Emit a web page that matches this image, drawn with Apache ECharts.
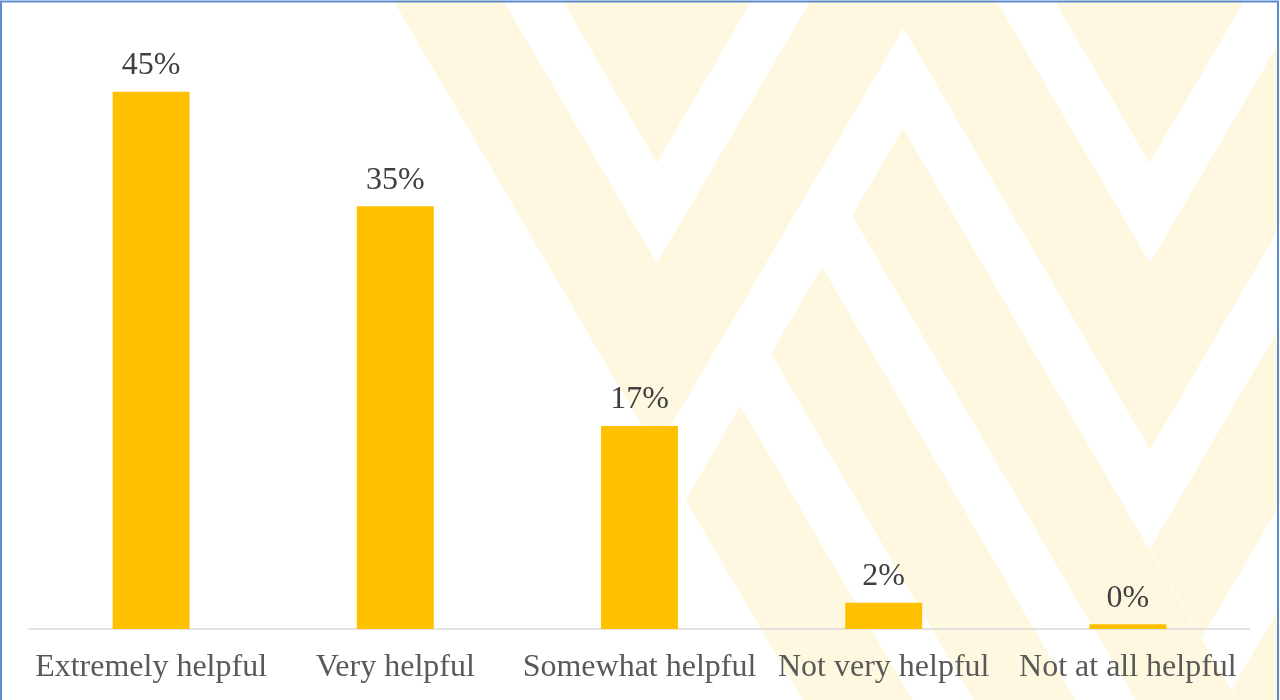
<!DOCTYPE html>
<html><head><meta charset="utf-8">
<script src="https://cdn.jsdelivr.net/npm/echarts@6/dist/echarts.min.js"></script>
<style>html,body{margin:0;padding:0;background:#fff}#c{width:1280px;height:700px}</style>
</head><body><div id="c"></div>
<script>
// ---- data ----
const categories = ['Extremely helpful', 'Very helpful', 'Somewhat helpful', 'Not very helpful', 'Not at all helpful'];
const values = [45, 35.4, 17, 2.2, 0.4];

// ---- decorative background watermark (not data) ----
const K = 0.585;
function uv(u, v) { return [(u + v) / 2, (v - u) / (2 * K)]; }
const WM = '#FFF8E1';
const wmShapes = [
  [[393, 0], [503, 0], uv(503, 920), uv(393, 920)],
  [[562, 0], [752, 0], [657, 163]],
  [[657, 263], [811, 0], [996, 0], [1150, 263], [1280, 41], [1280, 227], uv(887, 1413), uv(887, 920), uv(503, 920)],
  [[1054, 0], [1245, 0], [1149.5, 163]],
  [uv(564, 978), uv(666, 978), [666 + K * 700, 700], [564 + K * 700, 700]],
  [uv(726, 978), uv(828, 978), [828 + K * 700, 700], [726 + K * 700, 700]],
  [uv(393, 978), uv(503, 978), [503 + K * 700, 700], [393 + K * 700, 700]],
  [uv(829, 1471), [1280, (1471 - 1280) / K], [1280, (1575 - 1280) / K], uv(829, 1575)],
  [[1280, (1635 - 1280) / K], [1280, 700], [829 + K * 700, 700], uv(829, 1635)]
];
const graphics = wmShapes.map(p => ({
  type: 'polygon', silent: true, z: -10,
  shape: { points: p }, style: { fill: WM }
}));
graphics.push({
  type: 'rect', silent: true, z: 100,
  shape: { x: 1, y: 1.5, width: 1277, height: 720 },
  style: { fill: null, stroke: '#5B8BD0', lineWidth: 2 }
});

const FONT = "'Liberation Serif', 'Times New Roman', serif";
const chart = echarts.init(document.getElementById('c'));
chart.setOption({
  animation: false,
  backgroundColor: '#ffffff',
  graphic: { elements: graphics },
  grid: { left: 29, right: 30, top: 32, bottom: 71, containLabel: false },
  xAxis: {
    type: 'category',
    data: categories,
    axisLine: { lineStyle: { color: '#D9D9D9', width: 1.5 } },
    axisTick: { show: false },
    axisLabel: { interval: 0, fontFamily: FONT, fontSize: 32, color: '#595959', margin: 23 }
  },
  yAxis: { type: 'value', min: 0, max: 50, show: false, splitLine: { show: false } },
  series: [{
    type: 'bar',
    data: values,
    barWidth: '31.5%',
    itemStyle: { color: '#FFC000' },
    label: {
      show: true, position: 'top', distance: 10,
      fontFamily: FONT, fontSize: 32, color: '#404040',
      formatter: p => Math.round(p.value) + '%'
    }
  }]
});
</script></body></html>
